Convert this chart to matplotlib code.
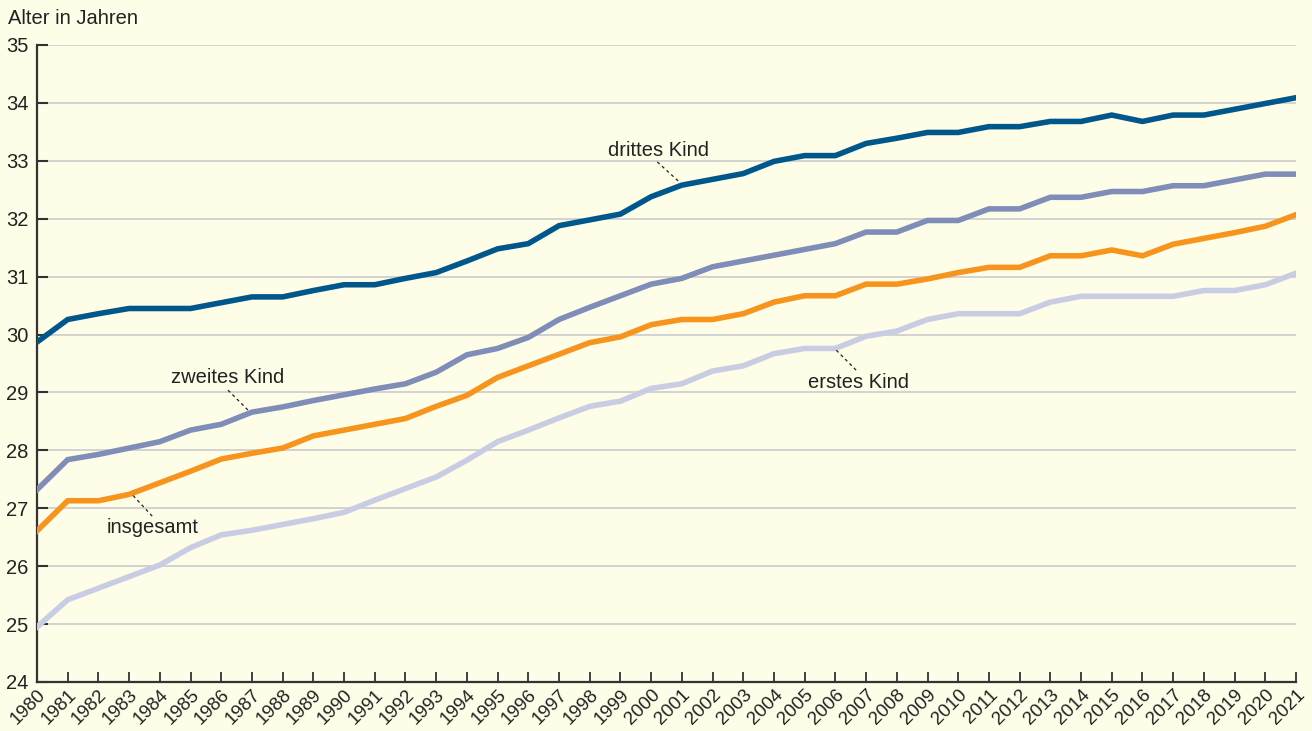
import matplotlib
matplotlib.use("Agg")
import matplotlib.pyplot as plt

plt.rcParams['font.family'] = ['Liberation Sans', 'DejaVu Sans']

years = list(range(1980, 2022))

drittes = [29.87, 30.26, 30.36, 30.45, 30.45, 30.45, 30.55, 30.65, 30.65, 30.76,
           30.86, 30.86, 30.97, 31.07, 31.27, 31.48, 31.57, 31.88, 31.98, 32.08,
           32.38, 32.58, 32.68, 32.78, 32.99, 33.09, 33.09, 33.30, 33.39, 33.49,
           33.49, 33.59, 33.59, 33.68, 33.68, 33.79, 33.68, 33.79, 33.79, 33.89,
           33.99, 34.09]

zweites = [27.32, 27.84, 27.93, 28.04, 28.15, 28.35, 28.45, 28.66, 28.75, 28.86,
           28.96, 29.06, 29.15, 29.35, 29.65, 29.76, 29.95, 30.26, 30.47, 30.67,
           30.87, 30.97, 31.17, 31.27, 31.37, 31.47, 31.57, 31.77, 31.77, 31.97,
           31.97, 32.17, 32.17, 32.37, 32.37, 32.47, 32.47, 32.57, 32.57, 32.67,
           32.77, 32.77]

insgesamt = [26.61, 27.13, 27.13, 27.24, 27.44, 27.64, 27.85, 27.95, 28.04, 28.25,
             28.35, 28.45, 28.55, 28.76, 28.95, 29.26, 29.46, 29.66, 29.86, 29.96,
             30.17, 30.26, 30.26, 30.36, 30.56, 30.67, 30.67, 30.87, 30.87, 30.96,
             31.07, 31.16, 31.16, 31.36, 31.36, 31.46, 31.36, 31.56, 31.66, 31.76,
             31.87, 32.07]

erstes = [24.95, 25.42, 25.62, 25.82, 26.02, 26.32, 26.54, 26.62, 26.72, 26.82,
          26.93, 27.14, 27.34, 27.54, 27.83, 28.15, 28.35, 28.56, 28.76, 28.85,
          29.07, 29.15, 29.37, 29.46, 29.67, 29.76, 29.76, 29.97, 30.06, 30.26,
          30.36, 30.36, 30.36, 30.56, 30.66, 30.66, 30.66, 30.66, 30.76, 30.76,
          30.86, 31.06]

y_ticks = list(range(24, 36))

bg = '#fefde8'
fig = plt.figure(figsize=(13.12, 7.31), dpi=100, facecolor=bg)
ax = fig.add_axes([37/1312, 1 - 682/731, (1296 - 37)/1312, (682 - 45)/731])
ax.set_facecolor(bg)

for yv in y_ticks[1:]:
    ax.axhline(yv, color='#cfcfcf', lw=1.3, zorder=1)

lw = 4.0
ax.plot(years, erstes, color='#c9cde4', lw=lw, zorder=3, solid_joinstyle='miter')
ax.plot(years, insgesamt, color='#f7941d', lw=lw, zorder=4, solid_joinstyle='miter')
ax.plot(years, zweites, color='#7f8db8', lw=lw, zorder=4, solid_joinstyle='miter')
ax.plot(years, drittes, color='#00578c', lw=lw, zorder=5, solid_joinstyle='miter')

ax.set_xlim(1980, 2021)
ax.set_ylim(24, 35)
ax.set_yticks(y_ticks)
ax.set_yticklabels([str(v) for v in y_ticks], fontsize=14.5, color='#222222')
ax.set_xticks(years)
ax.set_xticklabels([str(y) for y in years], rotation=45, ha='right', va='top',
                   rotation_mode='anchor', fontsize=13.5, color='#222222')
ax.tick_params(axis='y', direction='in', length=8, width=1.5, color='#333333', pad=6)
ax.tick_params(axis='x', direction='in', length=7, width=1.3, color='#333333', pad=3)

for s in ['top', 'right']:
    ax.spines[s].set_visible(False)
for s in ['left', 'bottom']:
    ax.spines[s].set_color('#333333')
    ax.spines[s].set_linewidth(1.6)

fig.text(8/1312, 1 - 19/731, 'Alter in Jahren', fontsize=14.5, color='#222222',
         ha='left', va='center')

txt_kw = dict(fontsize=14.5, color='#222222', zorder=6)
# label, text x, text y, leader start (x, y), leader end (x, y)
ann = [
    ('drittes Kind', 2000.23, 33.17, (2000.2, 32.98), (2000.95, 32.62)),
    ('zweites Kind', 1986.22, 29.25, (1986.22, 29.04), (1986.9, 28.68)),
    ('insgesamt', 1983.78, 26.66, (1983.13, 27.22), (1983.81, 26.83)),
    ('erstes Kind', 2006.74, 29.18, (2006.03, 29.73), (2006.74, 29.35)),
]
for label, tx, ty, p0, p1 in ann:
    ax.text(tx, ty, label, ha='center', va='center', **txt_kw)
    ax.plot([p0[0], p1[0]], [p0[1], p1[1]], color='#222222', lw=0.9,
            ls=(0, (2.5, 2.5)), zorder=6)

fig.savefig('out.png', dpi=100, facecolor=bg)
